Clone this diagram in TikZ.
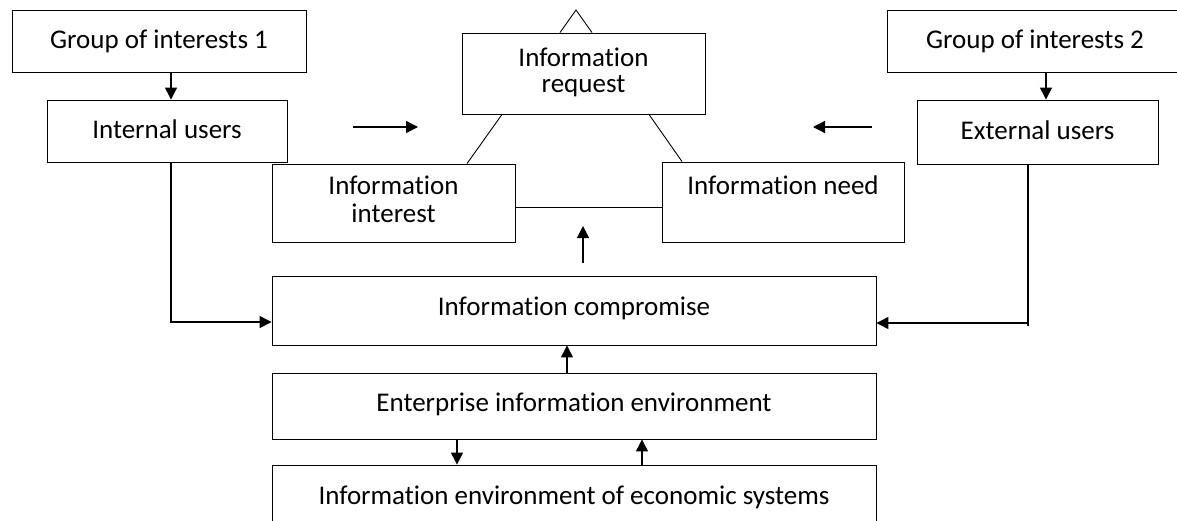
\documentclass[tikz,border=0pt]{standalone}
\usepackage{fontspec}
\setmainfont{Carlito}[Ligatures=NoCommon]
\usetikzlibrary{arrows.meta,calc}
\tikzset{
  box/.style={draw, line width=0.9pt, rectangle, inner sep=0pt, align=center, font=\fontsize{27}{24}\selectfont},
  conn/.style={line width=1.3pt},
  arr/.style={line width=1.3pt, -{Triangle[length=12pt,width=12pt]}},
}
\begin{document}
\begin{tikzpicture}[x=1pt,y=-1pt]
\useasboundingbox (0,0) rectangle (1177,520);
\clip (0,0) rectangle (1177,520);
\fill[white] (0,0) rectangle (1177,520);
% boxes
\node[box, minimum width=294pt, minimum height=62pt] (G1) at (159,41) {\raisebox{2pt}{Group of interests 1}};
\node[box, minimum width=240pt, minimum height=62pt] (IU) at (167,131) {\raisebox{4pt}{Internal users}};
\node[box, minimum width=296pt, minimum height=62pt] (G2) at (1035,41) {\raisebox{2pt}{Group of interests 2}};
\node[box, minimum width=241pt, minimum height=64pt] (EU) at (1037.5,132) {\raisebox{4pt}{External users}};
\node[box, minimum width=243pt, minimum height=81pt] (IR) at (583.5,73.5) {\raisebox{9pt}{\begin{tabular}{@{}c@{}}Information\\[2pt]request\end{tabular}}};
\node[box, minimum width=243pt, minimum height=78pt] (II) at (393.5,203) {\raisebox{6pt}{\begin{tabular}{@{}c@{}}Information\\[2pt]interest\end{tabular}}};
\node[box, minimum width=242pt, minimum height=80pt] (IN) at (783,202) {\raisebox{34pt}{Information need}};
\node[box, minimum width=604pt, minimum height=69pt] (IC) at (574,310.5) {\raisebox{9pt}{Information compromise}};
\node[box, minimum width=604pt, minimum height=66pt] (EE) at (574,406) {\raisebox{8pt}{Enterprise information environment}};
\node[box, minimum width=604pt, minimum height=66pt] (IE) at (574,498) {\raisebox{6pt}{Information environment of economic systems}};
% triangle on top of request
\coordinate (apex) at (576,10);
\draw[line width=0.9pt] ($(IR.north)+(-23.5,0)$) -- (apex) -- ($(IR.north)+(8.5,0)$);
% triangle sides
\draw[line width=0.9pt] ($(IR.south)+(-81.5,0)$) -- ($(II.north)+(73.5,0)$);
\draw[line width=0.9pt] ($(IR.south)+(65.5,0)$) -- ($(IN.north)+(-101,0)$);
\coordinate (mid) at (588,207);
\draw[line width=0.9pt] (II.east |- mid) -- (IN.west |- mid);
% group arrows
\draw[arr] ($(G1.south)+(12,0)$) -- ($(IU.north)+(4,0)$);
\draw[arr] ($(G2.south)+(11,0)$) -- ($(EU.north)+(8.5,0)$);
% free arrows
\coordinate (l1) at (353,127); \coordinate (l2) at (418,127);
\coordinate (r1) at (872,127); \coordinate (r2) at (813,127);
\coordinate (u1) at (583,263); \coordinate (u2) at (583,226);
\draw[arr] (l1) -- (l2);
\draw[arr] (r1) -- (r2);
\draw[arr] (u1) -- (u2);
% users to compromise
\coordinate (lc) at (172,322);
\draw[arr] ($(IU.south)+(4,0)$) |- (IC.west |- lc);
\coordinate (rc) at (1028,323);
\coordinate (rb) at (1028,326);
\draw[conn] ($(EU.south)+(-9.5,0)$) -- (rb);
\draw[arr] (rc) -- (IC.east |- rc);
% lower arrows
\draw[arr] ($(EE.north)+(-7,0)$) -- ($(IC.south)+(-7,0)$);
\draw[arr] ($(EE.south)+(-117,0)$) -- ($(IE.north)+(-117,0)$);
\draw[arr] ($(IE.north)+(68,0)$) -- ($(EE.south)+(68,0)$);
\end{tikzpicture}
\end{document}
